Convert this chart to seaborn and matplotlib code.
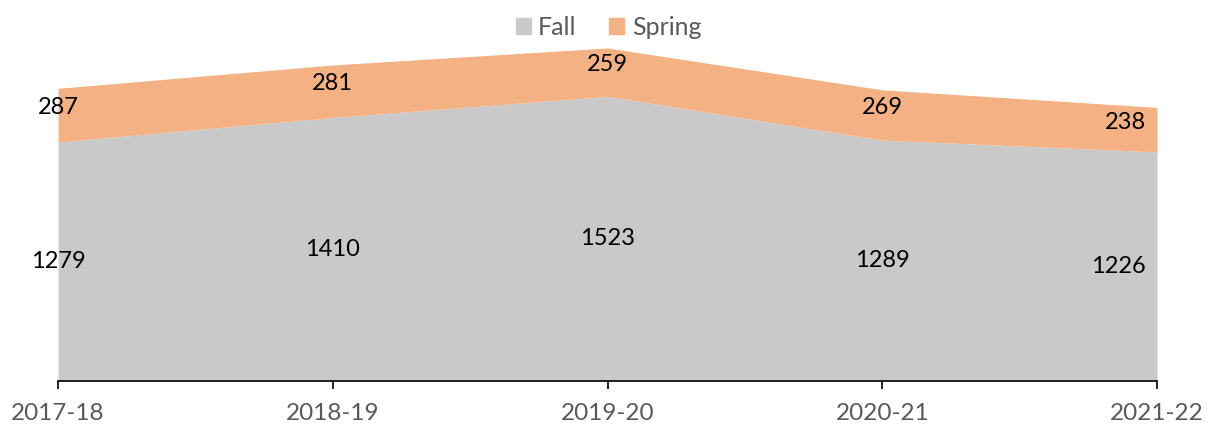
import numpy as np
import pandas as pd
import seaborn as sns
import matplotlib.pyplot as plt
from matplotlib.patches import Patch

# Data
years = ["2017-18", "2018-19", "2019-20", "2020-21", "2021-22"]
fall = [1279, 1410, 1523, 1289, 1226]
spring = [287, 281, 259, 269, 238]

df = pd.DataFrame({"Year": years, "Fall": fall, "Spring": spring})

sns.set_theme(style="white")
plt.rcParams["font.family"] = ["Lato", "DejaVu Sans"]

fall_color = "#c9c9c9"
spring_color = "#f4b183"

fig = plt.figure(figsize=(12.17, 4.36), dpi=100)
ax = fig.add_axes([0.0477, 0.1261, 0.903, 0.7716])

x = np.arange(len(df))
ax.stackplot(x, df["Fall"], df["Spring"], colors=[fall_color, spring_color],
             linewidth=0)

# data labels
n = len(df)
for i, row in df.iterrows():
    ha = "right" if i == n - 1 else "center"
    dx = -8 if i == n - 1 else 0
    ax.annotate(str(row["Fall"]), (i, row["Fall"] * 0.5), xytext=(dx, 0),
                textcoords="offset points", ha=ha, va="center",
                fontsize=17, color="black")
    ax.annotate(str(row["Spring"]), (i, row["Fall"] + row["Spring"] * 0.65),
                xytext=(dx, 0), textcoords="offset points", ha=ha,
                va="center", fontsize=17, color="black")

ax.set_xlim(0, n - 1)
ax.set_ylim(0, 1800)
ax.set_xticks(x)
ax.set_xticklabels(df["Year"], fontsize=17.5, color="#595959")
ax.set_yticks([])
ax.tick_params(axis="x", direction="out", length=6, width=1.2,
               color="black", pad=10, bottom=True)
for s in ["top", "right", "left"]:
    ax.spines[s].set_visible(False)
ax.spines["bottom"].set_color("black")
ax.spines["bottom"].set_linewidth(1.2)
ax.set_xlabel("")
ax.set_ylabel("")

handles = [Patch(color=fall_color, label="Fall"),
           Patch(color=spring_color, label="Spring")]
fig.legend(handles=handles, loc="upper center", bbox_to_anchor=(0.5, 1.015),
           ncol=2, frameon=False, fontsize=18, handlelength=0.6,
           handleheight=0.6, handletextpad=0.3, columnspacing=1.3,
           labelcolor="#595959")

plt.savefig("out.png", dpi=100)
